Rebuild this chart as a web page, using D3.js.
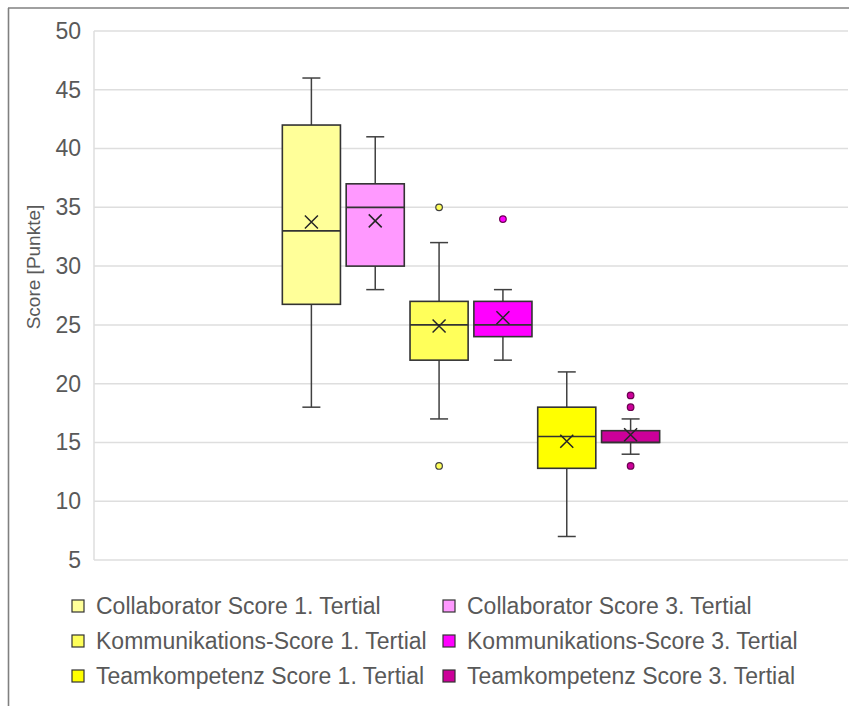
<!DOCTYPE html>
<html>
<head>
<meta charset="utf-8">
<script src="https://cdn.jsdelivr.net/npm/d3@7"></script>
<style>
  body { margin: 0; background: #fff; }
  svg { display: block; font-family: 'Liberation Sans', Arial, sans-serif; }
</style>
</head>
<body>
<script>
// data
const series = [
  'Collaborator Score 1. Tertial',
  'Collaborator Score 3. Tertial',
  'Kommunikations-Score 1. Tertial',
  'Kommunikations-Score 3. Tertial',
  'Teamkompetenz Score 1. Tertial',
  'Teamkompetenz Score 3. Tertial'
]
const fills = ['#ffff99', '#ff99ff', '#ffff5a', '#ff00ff', '#ffff00', '#cc0099']
const whiskerLow = [18, 28, 17, 22, 7, 14]
const q1 = [26.75, 30, 22, 24, 12.8, 15]
const median = [33, 35, 25, 25, 15.5, 15]
const q3 = [42, 37, 27, 27, 18, 16]
const whiskerHigh = [46, 41, 32, 28, 21, 17]
const means = [33.75, 33.85, 24.9, 25.6, 15.1, 15.65]
const outliers = [[], [], [35, 13], [34], [], [19, 18, 13]]
const yTicks = [5, 10, 15, 20, 25, 30, 35, 40, 45, 50]
const yTitle = 'Score [Punkte]'
// legend order (two columns)
const legendOrder = [0, 2, 4, 1, 3, 5]

const width = 849
const height = 706
const margin = { top: 31, left: 94, right: 1, bottom: 146 }
const innerWidth = width - margin.left - margin.right
const innerHeight = height - margin.top - margin.bottom

const svg = d3.select('body')
  .append('svg')
  .attr('width', width)
  .attr('height', height)

// outer frame (top and left edges visible)
svg.append('line')
  .attr('x1', 8).attr('x2', width)
  .attr('y1', 8).attr('y2', 8)
  .attr('stroke', '#808080')
  .attr('stroke-width', 1.6)
svg.append('line')
  .attr('x1', 8.5).attr('x2', 8.5)
  .attr('y1', 8).attr('y2', height)
  .attr('stroke', '#808080')
  .attr('stroke-width', 1.6)

const main = svg.append('g')
  .attr('transform', `translate(${margin.left}, ${margin.top})`)

// scales
const xScale = d3.scaleBand()
  .domain(series)
  .range([0, innerWidth])
  .paddingInner(0.09)
  .paddingOuter(2.95)

const yScale = d3.scaleLinear()
  .domain([5, 50])
  .range([innerHeight, 0])

// grid
main.append('g')
  .selectAll('line')
  .data(yTicks)
  .enter()
  .append('line')
  .attr('x1', 0)
  .attr('x2', innerWidth)
  .attr('y1', d => yScale(d))
  .attr('y2', d => yScale(d))
  .attr('stroke', '#dedede')
  .attr('stroke-width', 1.5)

main.append('line')
  .attr('x1', 0).attr('x2', 0)
  .attr('y1', yScale(50)).attr('y2', yScale(5))
  .attr('stroke', '#dedede')
  .attr('stroke-width', 1.5)

// y axis
const yAxis = d3.axisLeft(yScale)
  .tickValues(yTicks)
  .tickSize(0)
  .tickPadding(13)

const yG = main.append('g').call(yAxis)
yG.select('.domain').remove()
yG.selectAll('text')
  .attr('font-size', 23)
  .attr('font-family', "'Liberation Sans', Arial, sans-serif")
  .attr('fill', '#595959')

svg.append('text')
  .attr('transform', 'translate(40, 267) rotate(-90)')
  .attr('text-anchor', 'middle')
  .attr('font-size', 19)
  .attr('fill', '#595959')
  .text(yTitle)

// boxes
const bw = xScale.bandwidth()
const capW = 18
const boxes = main.append('g')
  .selectAll('g')
  .data(series)
  .enter()
  .append('g')
  .attr('transform', d => `translate(${xScale(d)}, 0)`)

boxes.each(function (d, i) {
  const g = d3.select(this)
  const cx = bw / 2
  const lineColor = '#404040'

  // whiskers
  g.append('line')
    .attr('x1', cx).attr('x2', cx)
    .attr('y1', yScale(whiskerHigh[i])).attr('y2', yScale(q3[i]))
    .attr('stroke', lineColor).attr('stroke-width', 1.5)
  g.append('line')
    .attr('x1', cx).attr('x2', cx)
    .attr('y1', yScale(q1[i])).attr('y2', yScale(whiskerLow[i]))
    .attr('stroke', lineColor).attr('stroke-width', 1.5)
  g.selectAll('.cap')
    .data([whiskerHigh[i], whiskerLow[i]])
    .enter()
    .append('line')
    .attr('class', 'cap')
    .attr('x1', cx - capW / 2).attr('x2', cx + capW / 2)
    .attr('y1', v => yScale(v)).attr('y2', v => yScale(v))
    .attr('stroke', lineColor).attr('stroke-width', 1.5)

  // box
  g.append('rect')
    .attr('x', 0)
    .attr('y', yScale(q3[i]))
    .attr('width', bw)
    .attr('height', yScale(q1[i]) - yScale(q3[i]))
    .attr('fill', fills[i])
    .attr('stroke', '#333')
    .attr('stroke-width', 1.6)

  // median
  g.append('line')
    .attr('x1', 0).attr('x2', bw)
    .attr('y1', yScale(median[i])).attr('y2', yScale(median[i]))
    .attr('stroke', '#333').attr('stroke-width', 1.6)

  // mean marker
  const my = yScale(means[i])
  const s = 6.5
  g.append('path')
    .attr('d', `M${cx - s},${my - s}L${cx + s},${my + s}M${cx - s},${my + s}L${cx + s},${my - s}`)
    .attr('stroke', '#262626')
    .attr('stroke-width', 1.5)
    .attr('fill', 'none')

  // outliers
  g.selectAll('circle')
    .data(outliers[i])
    .enter()
    .append('circle')
    .attr('cx', cx)
    .attr('cy', v => yScale(v))
    .attr('r', 3.3)
    .attr('fill', fills[i])
    .attr('stroke', i % 2 ? '#6b0050' : '#404040')
    .attr('stroke-width', 1.2)
})

// legend
const legend = svg.append('g')
const legendItems = legend.selectAll('g')
  .data(legendOrder)
  .enter()
  .append('g')
  .attr('transform', (d, k) => {
    const col = Math.floor(k / 3)
    const row = k % 3
    return `translate(${col ? 443 : 72}, ${606 + row * 35})`
  })

legendItems.append('rect')
  .attr('x', 0)
  .attr('y', -6)
  .attr('width', 12)
  .attr('height', 12)
  .attr('fill', d => fills[d])
  .attr('stroke', '#333')
  .attr('stroke-width', 1.2)

legendItems.append('text')
  .attr('x', 24)
  .attr('y', 8)
  .attr('font-size', 23)
  .attr('fill', '#595959')
  .text(d => series[d])
</script>
</body>
</html>
